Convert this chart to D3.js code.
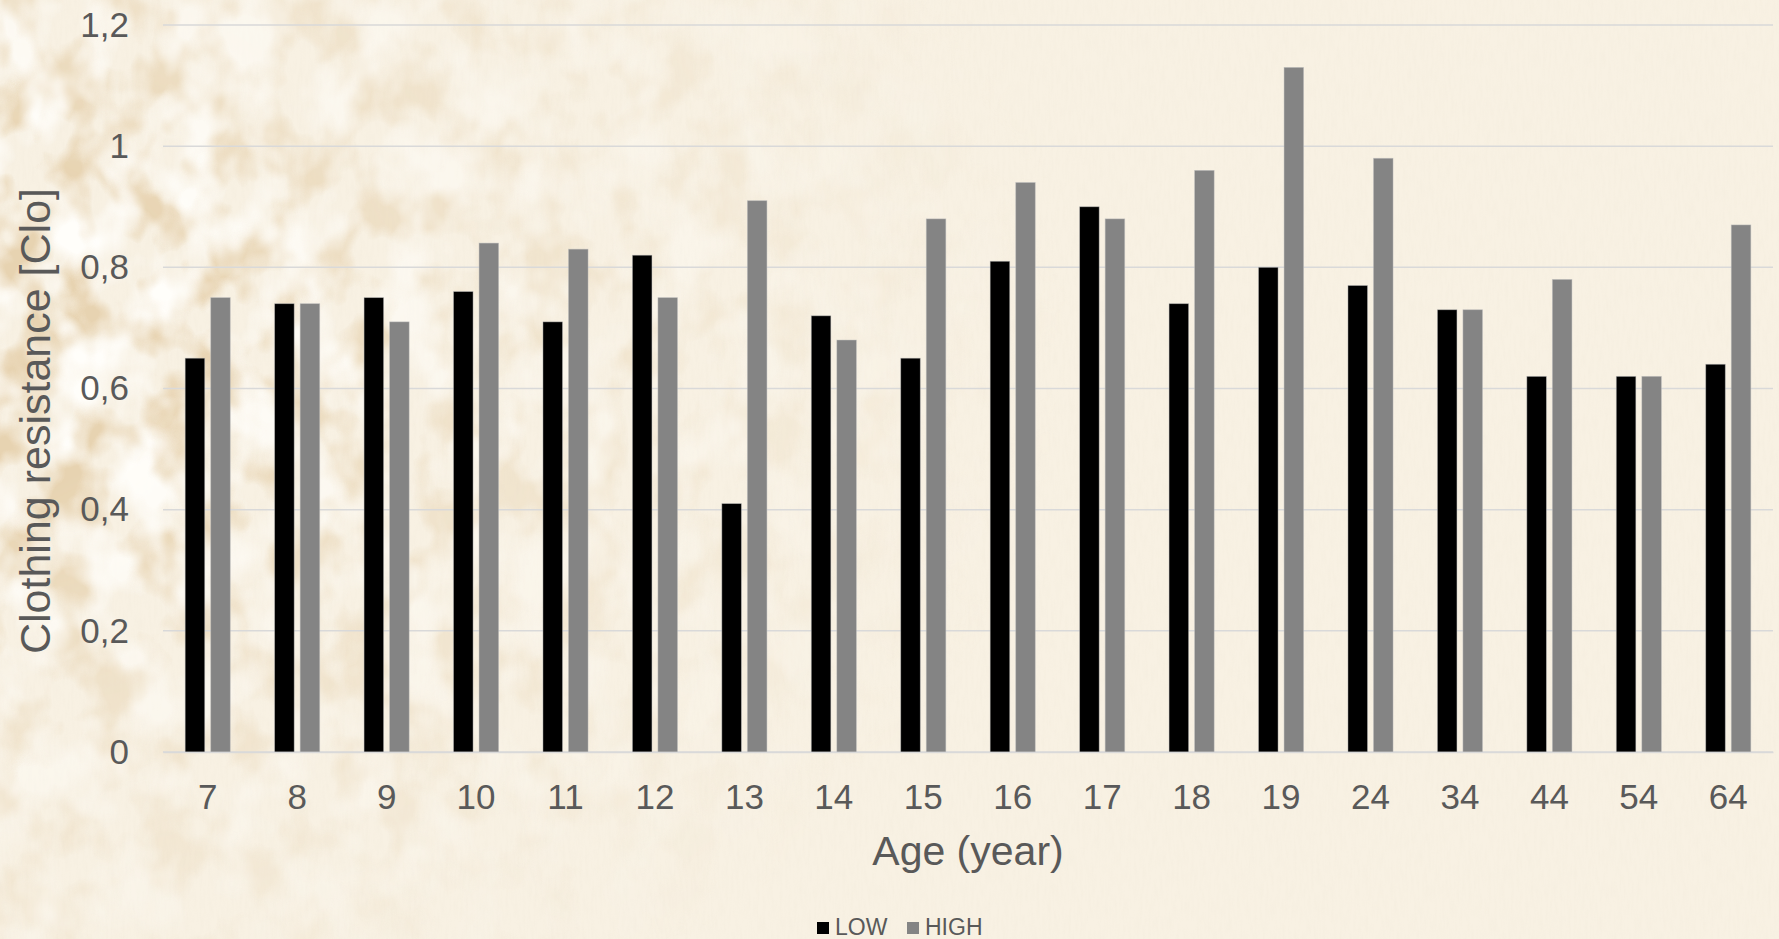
<!DOCTYPE html>
<html>
<head>
<meta charset="utf-8">
<script src="https://cdn.jsdelivr.net/npm/d3@7/dist/d3.min.js"></script>
<style>
  html, body { margin: 0; padding: 0; background: #f8f1e3; }
  svg { display: block; }
  text { font-family: "Liberation Sans", Arial, sans-serif; fill: #595959; }
</style>
</head>
<body>
<svg id="chart" width="1779" height="939"></svg>
<script>
// Clothing insulation by age group, low and high activity
const ages = ["7", "8", "9", "10", "11", "12", "13", "14", "15", "16", "17", "18", "19", "24", "34", "44", "54", "64"];
const lowValues  = [0.65, 0.74, 0.75, 0.76, 0.71, 0.82, 0.41, 0.72, 0.65, 0.81, 0.90, 0.74, 0.80, 0.77, 0.73, 0.62, 0.62, 0.64];
const highValues = [0.75, 0.74, 0.71, 0.84, 0.83, 0.75, 0.91, 0.68, 0.88, 0.94, 0.88, 0.96, 1.13, 0.98, 0.73, 0.78, 0.62, 0.87];
const seriesNames = ["LOW", "HIGH"];
const seriesColors = ["#000000", "#848484"];
const yTicks = [0, 0.2, 0.4, 0.6, 0.8, 1.0, 1.2];
const yTitle = "Clothing resistance [Clo]";
const xTitle = "Age (year)";

const W = 1779, H = 939;
const plot = { left: 163, right: 1773, top: 25, bottom: 752 };

const svg = d3.select("#chart");
const defs = svg.append("defs");

// ---- parchment background ----
const blotch = defs.append("filter").attr("id", "blotch")
  .attr("x", 0).attr("y", 0).attr("width", "100%").attr("height", "100%")
  .attr("filterUnits", "userSpaceOnUse");
blotch.append("feTurbulence").attr("type", "fractalNoise")
  .attr("baseFrequency", "0.021 0.017").attr("numOctaves", 3).attr("seed", 11).attr("result", "n");
blotch.append("feColorMatrix").attr("in", "n").attr("type", "matrix")
  .attr("values", "0 0 0 0 0.80  0 0 0 0 0.65  0 0 0 0 0.44  3.8 0 0 0 -1.62");

const light = defs.append("filter").attr("id", "light")
  .attr("x", 0).attr("y", 0).attr("width", "100%").attr("height", "100%")
  .attr("filterUnits", "userSpaceOnUse");
light.append("feTurbulence").attr("type", "fractalNoise")
  .attr("baseFrequency", "0.018 0.015").attr("numOctaves", 3).attr("seed", 29).attr("result", "n");
light.append("feColorMatrix").attr("in", "n").attr("type", "matrix")
  .attr("values", "0 0 0 0 1  0 0 0 0 0.99  0 0 0 0 0.96  0 3.4 0 0 -1.5");

const grain = defs.append("filter").attr("id", "grain")
  .attr("x", 0).attr("y", 0).attr("width", "100%").attr("height", "100%")
  .attr("filterUnits", "userSpaceOnUse");
grain.append("feTurbulence").attr("type", "fractalNoise")
  .attr("baseFrequency", "0.35 0.06").attr("numOctaves", 2).attr("seed", 3).attr("result", "n");
grain.append("feColorMatrix").attr("in", "n").attr("type", "matrix")
  .attr("values", "0 0 0 0 0.86  0 0 0 0 0.80  0 0 0 0 0.68  1.2 0 0 0 -0.45");

const fade = defs.append("radialGradient").attr("id", "fade")
  .attr("gradientUnits", "userSpaceOnUse")
  .attr("cx", -80).attr("cy", 330).attr("r", 1150)
  .attr("gradientTransform", "translate(-80,330) scale(1,0.72) translate(80,-330)");
fade.append("stop").attr("offset", "0").attr("stop-color", "#fff").attr("stop-opacity", 1);
fade.append("stop").attr("offset", "0.22").attr("stop-color", "#fff").attr("stop-opacity", 1);
fade.append("stop").attr("offset", "0.45").attr("stop-color", "#fff").attr("stop-opacity", 0.5);
fade.append("stop").attr("offset", "0.85").attr("stop-color", "#fff").attr("stop-opacity", 0.12);
fade.append("stop").attr("offset", "1").attr("stop-color", "#fff").attr("stop-opacity", 0);
defs.append("mask").attr("id", "fadeMask")
  .append("rect").attr("width", W).attr("height", H).attr("fill", "url(#fade)");

const bg = svg.append("g");
bg.append("rect").attr("width", W).attr("height", H).attr("fill", "#f8f1e3");
bg.append("rect").attr("width", W).attr("height", H).attr("filter", "url(#grain)").attr("opacity", 0.35);
const spots = bg.append("g").attr("mask", "url(#fadeMask)");
spots.append("rect").attr("width", W).attr("height", H).attr("filter", "url(#blotch)");
spots.append("rect").attr("width", W).attr("height", H).attr("filter", "url(#light)");

// ---- scales ----
const x = d3.scaleBand().domain(ages).range([plot.left, plot.right]).paddingInner(0).paddingOuter(0);
const bw = x.bandwidth();
const xs = d3.scaleBand().domain(seriesNames).range([bw * 0.248, bw * 0.752]).paddingInner(0.235);
const y = d3.scaleLinear().domain([0, 1.2]).range([plot.bottom, plot.top]);
const color = d3.scaleOrdinal().domain(seriesNames).range(seriesColors);

const locale = d3.formatLocale({ decimal: ",", thousands: ".", grouping: [3], currency: ["", ""] });
const fmt = locale.format("~g");

// ---- gridlines ----
svg.append("g").selectAll("line").data(yTicks).join("line")
  .attr("x1", plot.left).attr("x2", plot.right)
  .attr("y1", d => y(d)).attr("y2", d => y(d))
  .attr("stroke", "#d9d9d9").attr("stroke-width", 1.5);

// ---- bars ----
const rows = ages.map((a, i) => ({ age: a, LOW: lowValues[i], HIGH: highValues[i] }));
const groups = svg.append("g").selectAll("g").data(rows).join("g")
  .attr("transform", d => `translate(${x(d.age)},0)`);
groups.selectAll("rect").data(d => seriesNames.map(s => ({ s, v: d[s] }))).join("rect")
  .attr("x", d => xs(d.s))
  .attr("width", xs.bandwidth())
  .attr("y", d => y(d.v))
  .attr("height", d => y(0) - y(d.v))
  .attr("fill", d => color(d.s))
  .attr("stroke", "rgba(190,190,190,0.55)")
  .attr("stroke-width", 0.8);

// ---- axes ----
const yAxis = svg.append("g").attr("transform", `translate(${plot.left},0)`)
  .call(d3.axisLeft(y).tickValues(yTicks).tickFormat(fmt).tickSize(0).tickPadding(34));
yAxis.select(".domain").remove();
yAxis.selectAll("text").style("font-size", "35px").attr("fill", "#595959");

const xAxis = svg.append("g").attr("transform", `translate(0,${plot.bottom})`)
  .call(d3.axisBottom(x).tickSize(0).tickPadding(32));
xAxis.select(".domain").attr("stroke", "#d9d9d9").attr("stroke-width", 1.5);
xAxis.selectAll("text").style("font-size", "35px").attr("fill", "#595959");

// ---- titles ----
svg.append("text")
  .attr("transform", "translate(50,421) rotate(-90)")
  .attr("text-anchor", "middle")
  .style("font-size", "43px")
  .text(yTitle);

svg.append("text")
  .attr("x", (plot.left + plot.right) / 2).attr("y", 865)
  .attr("text-anchor", "middle")
  .style("font-size", "41px")
  .text(xTitle);

// ---- legend ----
const legendItems = [
  { name: seriesNames[0], sx: 817, tx: 835 },
  { name: seriesNames[1], sx: 907, tx: 925 }
];
const lg = svg.append("g");
lg.selectAll("rect").data(legendItems).join("rect")
  .attr("x", d => d.sx).attr("y", 922).attr("width", 12).attr("height", 12)
  .attr("fill", d => color(d.name));
lg.selectAll("text").data(legendItems).join("text")
  .attr("x", d => d.tx).attr("y", 935)
  .style("font-size", "23px")
  .text(d => d.name);
</script>
</body>
</html>
